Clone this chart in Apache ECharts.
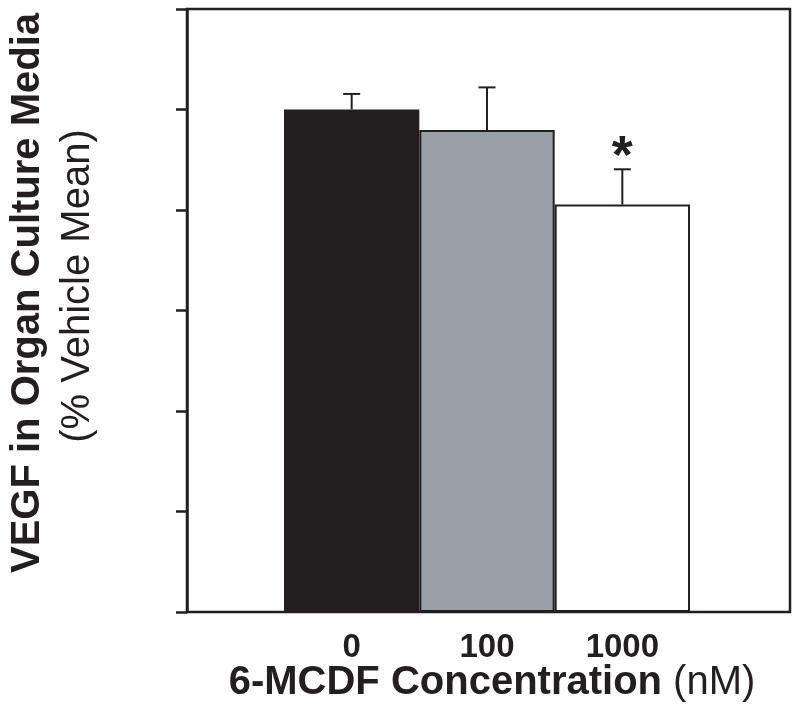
<!DOCTYPE html>
<html>
<head>
<meta charset="utf-8">
<script src="https://cdn.jsdelivr.net/npm/echarts@6/dist/echarts.min.js"></script>
<style>
html,body{margin:0;padding:0;background:#fff;}
#chart{width:800px;height:710px;}
</style>
</head>
<body>
<div id="chart"></div>
<script>
// ---- data ----
var categories = ['0', '100', '1000'];
var meanValues = [100, 95.9, 81.1];
var upperErrors = [103.1, 104.4, 88.1];
var significance = ['', '', '*'];
var barColors = ['#231f20', '#9aa0a7', '#ffffff'];
var yTicks = [0, 20, 40, 60, 80, 100, 120];

var ink = '#231f20';
var font = 'Liberation Sans, Arial, Helvetica, sans-serif';

var chart = echarts.init(document.getElementById('chart'), null, {renderer: 'canvas'});

var option = {
  animation: false,
  backgroundColor: '#ffffff',
  grid: [
    {left: 187, right: 10, top: 9, bottom: 98, show: true, borderColor: ink, borderWidth: 2.5, backgroundColor: 'transparent'},
    {left: 284, right: 110, top: 9, bottom: 98}
  ],
  xAxis: [
    {gridIndex: 0, type: 'value', min: 0, max: 1, show: false},
    {gridIndex: 1, type: 'category', data: categories,
     axisLine: {show: false}, axisTick: {show: false},
     axisLabel: {margin: 19, fontFamily: font, fontWeight: 'bold', fontSize: 33, color: ink}}
  ],
  yAxis: [
    {gridIndex: 0, type: 'value', min: yTicks[0], max: yTicks[yTicks.length - 1], interval: 20,
     axisLine: {show: true, lineStyle: {color: ink, width: 2.5}},
     axisTick: {show: true, length: 11, lineStyle: {color: ink, width: 2.5}},
     axisLabel: {show: false}, splitLine: {show: false}},
    {gridIndex: 1, type: 'value', min: yTicks[0], max: yTicks[yTicks.length - 1], interval: 20, show: false}
  ],
  series: [
    {
      type: 'bar', xAxisIndex: 1, yAxisIndex: 1, barWidth: '100%',
      data: meanValues.map(function (v, i) {
        return {value: v, itemStyle: {color: barColors[i], borderColor: ink, borderWidth: 2}};
      }),
      z: 2
    },
    {
      type: 'custom', xAxisIndex: 1, yAxisIndex: 1, z: 3,
      data: meanValues.map(function (v, i) { return [i, v, upperErrors[i]]; }),
      renderItem: function (params, api) {
        var i = api.value(0);
        var base = api.coord([i, api.value(1)]);
        var top = api.coord([i, api.value(2)]);
        var cap = 8.5;
        var children = [
          {type: 'line', shape: {x1: base[0], y1: base[1], x2: top[0], y2: top[1]}, style: {stroke: ink, lineWidth: 2}},
          {type: 'line', shape: {x1: top[0] - cap, y1: top[1], x2: top[0] + cap, y2: top[1]}, style: {stroke: ink, lineWidth: 2}}
        ];
        var s = significance[params.dataIndex];
        if (s) {
          children.push({type: 'text', style: {text: s, x: top[0], y: top[1] + 16, textAlign: 'center', textVerticalAlign: 'bottom',
            font: 'bold 54px ' + font, fill: ink}});
        }
        return {type: 'group', children: children};
      }
    }
  ],
  graphic: [
    {type: 'text', x: 28, y: 293, rotation: Math.PI / 2,
     style: {text: 'VEGF in Organ Culture Media', textAlign: 'center', textVerticalAlign: 'middle', font: 'bold 40px ' + font, fill: ink}},
    {type: 'text', x: 78, y: 286, rotation: Math.PI / 2,
     style: {text: '(% Vehicle Mean)', textAlign: 'center', textVerticalAlign: 'middle', font: '40px ' + font, fill: ink}},
    {type: 'text', x: 492, y: 683,
     style: {rich: {b: {fontWeight: 'bold', fontSize: 40, fontFamily: font, fill: ink}, n: {fontSize: 40, fontFamily: font, fill: ink}},
       text: '{b|6-MCDF Concentration}{n| (nM)}', textAlign: 'center', textVerticalAlign: 'middle'}}
  ]
};
chart.setOption(option);
</script>
</body>
</html>
